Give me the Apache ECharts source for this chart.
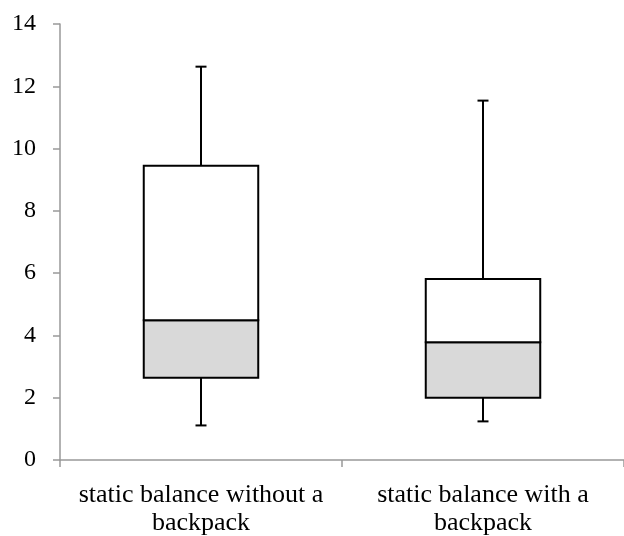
<!DOCTYPE html>
<html>
<head>
<meta charset="utf-8">
<script src="https://cdn.jsdelivr.net/npm/echarts@6/dist/echarts.min.js"></script>
<style>html,body{margin:0;padding:0;background:#fff;}#c{width:624px;height:536px;}</style>
</head>
<body>
<div id="c"></div>
<script>
var categories = ['static balance without a\nbackpack', 'static balance with a\nbackpack'];
var whiskerLow = [1.11, 1.24];
var q1 = [2.64, 2.00];
var median = [4.49, 3.78];
var q3 = [9.45, 5.81];
var whiskerHigh = [12.63, 11.54];
var yTicks = [0, 14, 2];

var data = categories.map(function (c, i) {
  return [i, whiskerLow[i], q1[i], median[i], q3[i], whiskerHigh[i]];
});

var chart = echarts.init(document.getElementById('c'));
var font = '"Liberation Serif", "Times New Roman", serif';
chart.setOption({
  animation: false,
  grid: { left: 60, right: 0, top: 24, bottom: 76, containLabel: false, outerBoundsMode: 'none' },
  xAxis: {
    type: 'category',
    data: categories,
    axisLine: { lineStyle: { color: '#999', width: 1.5 } },
    axisTick: { show: true, length: 7, lineStyle: { color: '#999', width: 1.5 } },
    axisLabel: { color: '#000', fontFamily: font, fontSize: 26, margin: 21, lineHeight: 28, interval: 0 }
  },
  yAxis: {
    type: 'value',
    min: yTicks[0], max: yTicks[1], interval: yTicks[2],
    splitLine: { show: false },
    axisLine: { show: true, lineStyle: { color: '#999', width: 1.5 } },
    axisTick: { show: true, length: 7, lineStyle: { color: '#999', width: 1.5 } },
    axisLabel: { color: '#000', fontFamily: font, fontSize: 24, margin: 24 }
  },
  series: [{
    type: 'custom',
    data: data,
    renderItem: function (params, api) {
      var idx = api.value(0);
      var pLow = api.coord([idx, api.value(1)]);
      var pQ1 = api.coord([idx, api.value(2)]);
      var pMed = api.coord([idx, api.value(3)]);
      var pQ3 = api.coord([idx, api.value(4)]);
      var pHigh = api.coord([idx, api.value(5)]);
      var w = api.size([1, 0])[0] * 0.406;
      var cx = pMed[0];
      var capW = 11;
      var ls = { stroke: '#000', lineWidth: 2, fill: null };
      return {
        type: 'group',
        children: [
          { type: 'line', shape: { x1: cx, y1: pQ3[1], x2: cx, y2: pHigh[1] }, style: ls },
          { type: 'line', shape: { x1: cx - capW / 2, y1: pHigh[1], x2: cx + capW / 2, y2: pHigh[1] }, style: ls },
          { type: 'line', shape: { x1: cx, y1: pQ1[1], x2: cx, y2: pLow[1] }, style: ls },
          { type: 'line', shape: { x1: cx - capW / 2, y1: pLow[1], x2: cx + capW / 2, y2: pLow[1] }, style: ls },
          { type: 'rect', shape: { x: cx - w / 2, y: pMed[1], width: w, height: pQ1[1] - pMed[1] },
            style: { fill: '#d9d9d9', stroke: '#000', lineWidth: 2 } },
          { type: 'rect', shape: { x: cx - w / 2, y: pQ3[1], width: w, height: pMed[1] - pQ3[1] },
            style: { fill: '#fff', stroke: '#000', lineWidth: 2 } }
        ]
      };
    }
  }]
});
</script>
</body>
</html>
